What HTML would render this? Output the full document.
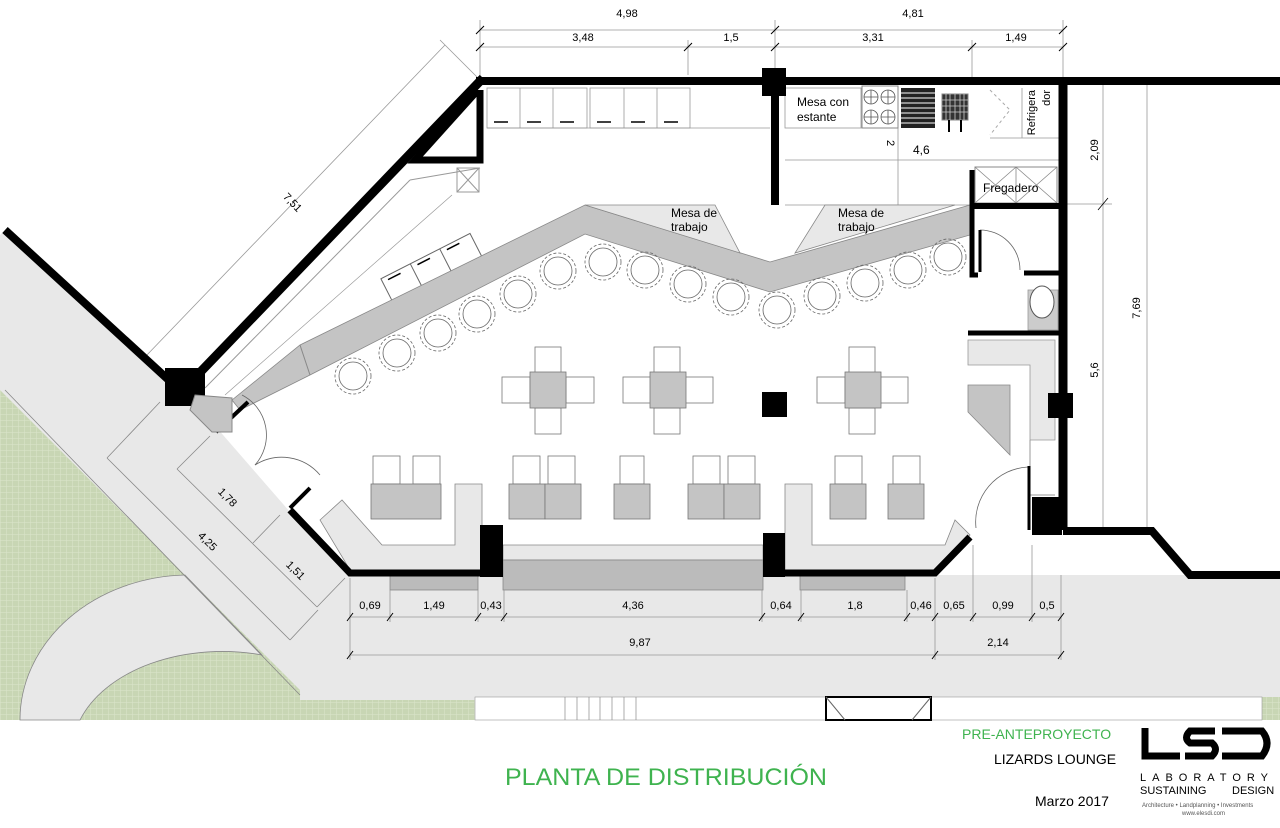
<!DOCTYPE html>
<html><head><meta charset="utf-8"><style>
html,body{margin:0;padding:0;background:#fff;}
svg{display:block;font-family:"Liberation Sans",sans-serif;}
</style></head><body>
<svg width="1280" height="828" viewBox="0 0 1280 828" xmlns="http://www.w3.org/2000/svg">
<defs>
<pattern id="g" width="6" height="6" patternUnits="userSpaceOnUse">
<rect width="6" height="6" fill="#c8d6b4"/><path d="M0 0H6M0 0V6" stroke="#dbe5cc" stroke-width="1"/>
</pattern>
</defs>
<rect width="1280" height="828" fill="#fff"/>
<polygon points="0,235 5,230 185,392 210,420 290,512 350,575 1280,575 1280,720 0,720" fill="#e8e8e8"/>
<polygon points="0,390 190,580 300,690 300,720 0,720" fill="url(#g)"/>
<polygon points="300,700 475,700 475,720 300,720" fill="url(#g)"/>
<rect x="1262" y="697" width="18" height="23" fill="url(#g)"/>
<path d="M20,720 A170,145 0 0 1 185,575 L262,655 A150,100 0 0 0 80,720 Z" fill="#e8e8e8" stroke="#888" stroke-width="0.8"/>
<line x1="5" y1="390" x2="300" y2="695" stroke="#888" stroke-width="0.8"/>
<rect x="475" y="697" width="787" height="23" fill="#fff" stroke="#999" stroke-width="0.6"/>
<g stroke="#888" stroke-width="0.7">
<line x1="565" y1="697" x2="565" y2="720"/><line x1="577" y1="697" x2="577" y2="720"/><line x1="589" y1="697" x2="589" y2="720"/><line x1="600" y1="697" x2="600" y2="720"/><line x1="612" y1="697" x2="612" y2="720"/><line x1="624" y1="697" x2="624" y2="720"/><line x1="636" y1="697" x2="636" y2="720"/>
</g>
<rect x="826" y="697" width="105" height="23" fill="none" stroke="#000" stroke-width="2"/>
<line x1="826" y1="697" x2="845" y2="720" stroke="#666"/><line x1="931" y1="697" x2="912" y2="720" stroke="#666"/>

<polygon points="480,82 1063,82 1063,530 1035,530 970,535 935,572 350,572 290,512 230,430 210,408 185,388" fill="#fff"/>
<polygon points="1063,82 1280,82 1280,575 1190,575 1152,527 1063,527" fill="#fff"/>

<g stroke="#999" stroke-width="0.8">
<line x1="1103" y1="82" x2="1103" y2="527"/><line x1="1147" y1="82" x2="1147" y2="527"/>
<line x1="1063" y1="204" x2="1112" y2="204"/>
<line x1="1098" y1="210" x2="1108" y2="198" stroke="#000"/>
</g>
<text x="1098" y="150" font-size="11" transform="rotate(-90 1098 150)" text-anchor="middle">2,09</text>
<text x="1098" y="370" font-size="11" transform="rotate(-90 1098 370)" text-anchor="middle">5,6</text>
<text x="1140" y="308" font-size="11" transform="rotate(-90 1140 308)" text-anchor="middle">7,69</text>

<g stroke="#999" stroke-width="0.8">
<line x1="480" y1="30" x2="1063" y2="30"/><line x1="480" y1="47" x2="1063" y2="47"/>
<line x1="480" y1="20" x2="480" y2="80"/><line x1="775" y1="20" x2="775" y2="70"/><line x1="1063" y1="20" x2="1063" y2="80"/>
<line x1="688" y1="40" x2="688" y2="75"/><line x1="972" y1="40" x2="972" y2="80"/>
</g>
<g stroke="#000" stroke-width="1">
<path d="M476,34l8,-8M771,34l8,-8M1059,34l8,-8M476,51l8,-8M684,51l8,-8M771,51l8,-8M968,51l8,-8M1059,51l8,-8"/>
</g>
<g font-size="11" text-anchor="middle">
<text x="627" y="17">4,98</text><text x="913" y="17">4,81</text>
<text x="583" y="41">3,48</text><text x="731" y="41">1,5</text><text x="873" y="41">3,31</text><text x="1016" y="41">1,49</text>
</g>
<line x1="445" y1="45" x2="145" y2="357" stroke="#999" stroke-width="0.8"/>
<line x1="440" y1="40" x2="480" y2="80" stroke="#999" stroke-width="0.8"/>
<text x="290" y="205" font-size="11" text-anchor="middle" transform="rotate(46 290 205)">7,51</text>

<g stroke="#999" stroke-width="0.8" fill="#fff">
<rect x="487" y="88" width="100" height="40"/><rect x="590" y="88" width="100" height="40"/>
<line x1="520" y1="88" x2="520" y2="128"/><line x1="553" y1="88" x2="553" y2="128"/><line x1="624" y1="88" x2="624" y2="128"/><line x1="657" y1="88" x2="657" y2="128"/>
<line x1="487" y1="128" x2="770" y2="128"/>
<rect x="785" y="88" width="76" height="40"/>
<line x1="785" y1="160" x2="1063" y2="160"/>
<line x1="898" y1="128" x2="898" y2="205"/>
<line x1="785" y1="205" x2="972" y2="205"/>
</g>
<g stroke="#000" stroke-width="1.5">
<path d="M494,122h14M527,122h14M560,122h14M597,122h14M631,122h14M664,122h14"/>
</g>
<text x="797" y="106" font-size="12">Mesa con</text>
<text x="797" y="121" font-size="12">estante</text>
<rect x="862" y="86" width="36" height="42" fill="#fff" stroke="#888"/>
<g fill="none" stroke="#555" stroke-width="0.8"><circle cx="871" cy="97" r="7"/><circle cx="888" cy="97" r="7"/><circle cx="871" cy="117" r="7"/><circle cx="888" cy="117" r="7"/>
<path d="M864,97h14M871,90v14M881,97h14M888,90v14M864,117h14M871,110v14M881,117h14M888,110v14"/></g>
<rect x="901" y="88" width="34" height="40" fill="#222"/>
<g stroke="#fff" stroke-width="1"><path d="M901,93h34M901,98h34M901,103h34M901,108h34M901,113h34M901,118h34M901,123h34"/></g>
<rect x="942" y="94" width="26" height="26" fill="#333" stroke="#888"/>
<g stroke="#ccc" stroke-width="0.8"><path d="M946,94v26M950,94v26M955,94v26M960,94v26M964,94v26M942,100h26M942,106h26M942,112h26"/></g>
<path d="M949,120v12M961,120v12" stroke="#000" stroke-width="2"/>
<g stroke="#aaa" stroke-dasharray="3,3" fill="none"><path d="M990,90 L1010,110 L990,135"/></g>
<line x1="1022" y1="88" x2="1022" y2="138" stroke="#999" stroke-width="0.8"/>
<line x1="990" y1="138" x2="1060" y2="138" stroke="#999" stroke-width="0.8"/>
<text x="1035" y="90" font-size="11" transform="rotate(-90 1035 90)" text-anchor="end">Refrigera</text>
<text x="1050" y="90" font-size="11" transform="rotate(-90 1050 90)" text-anchor="end">dor</text>
<text x="887" y="143" font-size="11" transform="rotate(90 887 143)" text-anchor="middle">2</text>
<text x="913" y="154" font-size="12">4,6</text>
<rect x="975" y="167" width="82" height="36" fill="#fff" stroke="#888"/>
<path d="M975,167l41,36M1016,167l-41,36M1016,167l41,36M1057,167l-41,36M1016,167v36" stroke="#888" stroke-width="0.8"/>
<text x="983" y="192" font-size="12">Fregadero</text>

<rect x="457" y="168" width="22" height="24" fill="#fff" stroke="#999"/>
<path d="M457,168l22,24M479,168l-22,24" stroke="#999"/>
<line x1="480" y1="168" x2="410" y2="180" stroke="#999"/>
<line x1="410" y1="180" x2="205" y2="388" stroke="#999"/>
<line x1="452" y1="195" x2="225" y2="395" stroke="#999" stroke-width="0.7"/>

<g transform="rotate(-27 430 265)">
<rect x="380" y="255" width="100" height="28" fill="#fff" stroke="#666"/>
<path d="M413,255v28M446,255v28" stroke="#666"/>
<path d="M386,259h14M419,259h14M452,259h14" stroke="#000" stroke-width="1.5"/>
</g>

<polygon points="232,400 300,345 585,205 770,262 970,205 970,235 770,292 585,234 310,375 240,410" fill="#c4c4c4" stroke="#888" stroke-width="0.8"/>
<line x1="300" y1="345" x2="310" y2="375" stroke="#888"/>
<polygon points="585,205 715,205 740,253" fill="#e8e8e8" stroke="#888" stroke-width="0.8"/>
<polygon points="825,205 955,205 795,253" fill="#e8e8e8" stroke="#888" stroke-width="0.8"/>
<text x="671" y="217" font-size="12">Mesa de</text><text x="671" y="231" font-size="12">trabajo</text>
<text x="838" y="217" font-size="12">Mesa de</text><text x="838" y="231" font-size="12">trabajo</text>

<g fill="none" stroke="#666" stroke-width="0.8">
<circle cx="353" cy="376" r="14"/><circle cx="353" cy="376" r="18" stroke-dasharray="3,2"/>
<circle cx="397" cy="353" r="14"/><circle cx="397" cy="353" r="18" stroke-dasharray="3,2"/>
<circle cx="438" cy="333" r="14"/><circle cx="438" cy="333" r="18" stroke-dasharray="3,2"/>
<circle cx="477" cy="314" r="14"/><circle cx="477" cy="314" r="18" stroke-dasharray="3,2"/>
<circle cx="518" cy="294" r="14"/><circle cx="518" cy="294" r="18" stroke-dasharray="3,2"/>
<circle cx="558" cy="271" r="14"/><circle cx="558" cy="271" r="18" stroke-dasharray="3,2"/>
<circle cx="603" cy="262" r="14"/><circle cx="603" cy="262" r="18" stroke-dasharray="3,2"/>
<circle cx="645" cy="270" r="14"/><circle cx="645" cy="270" r="18" stroke-dasharray="3,2"/>
<circle cx="688" cy="284" r="14"/><circle cx="688" cy="284" r="18" stroke-dasharray="3,2"/>
<circle cx="731" cy="297" r="14"/><circle cx="731" cy="297" r="18" stroke-dasharray="3,2"/>
<circle cx="777" cy="310" r="14"/><circle cx="777" cy="310" r="18" stroke-dasharray="3,2"/>
<circle cx="822" cy="296" r="14"/><circle cx="822" cy="296" r="18" stroke-dasharray="3,2"/>
<circle cx="865" cy="283" r="14"/><circle cx="865" cy="283" r="18" stroke-dasharray="3,2"/>
<circle cx="908" cy="270" r="14"/><circle cx="908" cy="270" r="18" stroke-dasharray="3,2"/>
<circle cx="948" cy="257" r="14"/><circle cx="948" cy="257" r="18" stroke-dasharray="3,2"/>
</g>

<g fill="#fff" stroke="#777" stroke-width="0.8">
<rect x="535" y="347" width="26" height="26"/><rect x="535" y="408" width="26" height="26"/><rect x="502" y="377" width="28" height="26"/><rect x="566" y="377" width="28" height="26"/>
<rect x="654" y="347" width="26" height="26"/><rect x="654" y="408" width="26" height="26"/><rect x="623" y="377" width="28" height="26"/><rect x="685" y="377" width="28" height="26"/>
<rect x="849" y="347" width="26" height="26"/><rect x="849" y="408" width="26" height="26"/><rect x="817" y="377" width="28" height="26"/><rect x="880" y="377" width="28" height="26"/>
</g>
<g fill="#c4c4c4" stroke="#777" stroke-width="0.8">
<rect x="530" y="372" width="36" height="36"/><rect x="650" y="372" width="36" height="36"/><rect x="845" y="372" width="36" height="36"/>
</g>
<rect x="762" y="392" width="25" height="25" fill="#000"/>

<g fill="#e8e8e8" stroke="#888" stroke-width="0.8">
<polygon points="320,520 342,500 382,545 455,545 455,484 482,484 482,570 350,570"/>
<polygon points="503,545 763,545 763,560 503,560"/>
<polygon points="785,484 812,484 812,545 945,545 955,520 970,535 935,570 785,570"/>
<rect x="503" y="560" width="260" height="30" fill="#bbb"/>
</g>
<g fill="#fff" stroke="#777" stroke-width="0.8">
<rect x="373" y="456" width="27" height="28"/><rect x="413" y="456" width="27" height="28"/>
<rect x="513" y="456" width="27" height="28"/><rect x="548" y="456" width="27" height="28"/>
<rect x="620" y="456" width="24" height="28"/>
<rect x="693" y="456" width="27" height="28"/><rect x="728" y="456" width="27" height="28"/>
<rect x="835" y="456" width="27" height="28"/><rect x="893" y="456" width="27" height="28"/>
</g>
<g fill="#c4c4c4" stroke="#777" stroke-width="0.8">
<rect x="371" y="484" width="70" height="35"/>
<rect x="509" y="484" width="36" height="35"/><rect x="545" y="484" width="36" height="35"/>
<rect x="614" y="484" width="36" height="35"/>
<rect x="688" y="484" width="36" height="35"/><rect x="724" y="484" width="36" height="35"/>
<rect x="830" y="484" width="36" height="35"/><rect x="888" y="484" width="36" height="35"/>
</g>

<g fill="#bbb" stroke="#888" stroke-width="0.8">
<rect x="390" y="572" width="88" height="18"/><rect x="800" y="572" width="105" height="18"/>
</g>
<g fill="#e8e8e8" stroke="#999" stroke-width="0.8">
<polygon points="968,340 1055,340 1055,440 1030,440 1030,365 968,365"/>
<rect x="1028" y="290" width="30" height="40" fill="#ccc"/>
</g>
<ellipse cx="1042" cy="302" rx="12" ry="16" fill="#fff" stroke="#555"/>
<polygon points="968,385 1010,385 1010,455 968,412" fill="#c4c4c4" stroke="#888" stroke-width="0.8"/>
<path d="M1030,440v55M1030,495h25" stroke="#999" fill="none"/>
<g fill="none" stroke="#666" stroke-width="0.8">
<path d="M980,230 A40,40 0 0 1 1020,270"/>
<path d="M1028,467 A55,55 0 0 0 976,528"/>
<path d="M242,395 A45,45 0 0 1 255,465"/>
<path d="M255,465 A50,50 0 0 1 320,475"/>
</g>

<g stroke="#000" fill="none" stroke-linejoin="miter">
<path d="M476,81 H1280" stroke-width="8"/>
<path d="M483,78 L185,388" stroke-width="9"/>
<path d="M478,90 L415,160 H480 V90" stroke-width="7"/>
<path d="M5,230 L185,395" stroke-width="8"/>
<path d="M775,80 V205" stroke-width="8"/>
<path d="M1063,78 V530" stroke-width="9"/>
<path d="M1063,531 H1152 L1190,575 H1280" stroke-width="8"/>
<path d="M290,510 L350,573 H480" stroke-width="7"/>
<path d="M785,573 H905 L935,573 L970,537" stroke-width="7"/>
<path d="M290,508 L310,488" stroke-width="4"/>
<path d="M216,432 L248,402" stroke-width="4"/>
<path d="M972,170 V275 H978" stroke-width="5"/>
<path d="M972,206 H1063" stroke-width="6"/>
<path d="M968,333 H1063" stroke-width="5"/>
<path d="M1024,273 H1063" stroke-width="5"/>
<path d="M980,230 V272" stroke-width="3"/>
<path d="M1029,466 V530" stroke-width="3"/>
</g>
<rect x="762" y="68" width="24" height="28" fill="#000"/>
<rect x="480" y="525" width="23" height="52" fill="#000"/>
<rect x="763" y="533" width="22" height="44" fill="#000"/>
<rect x="1048" y="393" width="25" height="25" fill="#000"/>
<rect x="1032" y="497" width="30" height="38" fill="#000"/>
<rect x="165" y="368" width="40" height="38" fill="#000"/>
<polygon points="195,395 232,398 232,432 212,432 190,410" fill="#c4c4c4" stroke="#888"/>

<g stroke="#999" stroke-width="0.8">
<line x1="350" y1="617" x2="1061" y2="617"/><line x1="350" y1="655" x2="1061" y2="655"/>
<line x1="350" y1="578" x2="350" y2="660"/><line x1="390" y1="590" x2="390" y2="622"/><line x1="478" y1="590" x2="478" y2="622"/><line x1="504" y1="590" x2="504" y2="622"/><line x1="762" y1="590" x2="762" y2="622"/><line x1="801" y1="590" x2="801" y2="622"/><line x1="907" y1="590" x2="907" y2="622"/><line x1="935" y1="578" x2="935" y2="660"/><line x1="973" y1="545" x2="973" y2="622"/><line x1="1032" y1="545" x2="1032" y2="622"/><line x1="1061" y1="575" x2="1061" y2="660"/>
</g>
<g stroke="#000" stroke-width="1">
<path d="M347,621l6,-8M387,621l6,-8M475,621l6,-8M501,621l6,-8M759,621l6,-8M798,621l6,-8M904,621l6,-8M932,621l6,-8M970,621l6,-8M1029,621l6,-8M1058,621l6,-8M347,659l6,-8M932,659l6,-8M1058,659l6,-8"/>
</g>
<g font-size="11" text-anchor="middle">
<text x="370" y="609">0,69</text><text x="434" y="609">1,49</text><text x="491" y="609">0,43</text><text x="633" y="609">4,36</text><text x="781" y="609">0,64</text><text x="855" y="609">1,8</text><text x="921" y="609">0,46</text><text x="954" y="609">0,65</text><text x="1003" y="609">0,99</text><text x="1047" y="609">0,5</text>
<text x="640" y="646">9,87</text><text x="998" y="646">2,14</text>
</g>
<g stroke="#888" stroke-width="0.8">
<line x1="107" y1="458" x2="290" y2="640"/>
<line x1="177" y1="469" x2="317" y2="607"/>
<line x1="107" y1="458" x2="160" y2="402"/>
<line x1="177" y1="469" x2="210" y2="436"/>
<line x1="253" y1="543" x2="280" y2="515"/>
<line x1="317" y1="607" x2="345" y2="578"/>
<line x1="290" y1="640" x2="318" y2="610"/>
</g>
<g font-size="11" text-anchor="middle">
<text x="225" y="500" transform="rotate(45 225 500)">1,78</text>
<text x="205" y="544" transform="rotate(45 205 544)">4,25</text>
<text x="293" y="573" transform="rotate(45 293 573)">1,51</text>
</g>

<text x="505" y="785" font-size="24" fill="#3fb34f" textLength="322" lengthAdjust="spacingAndGlyphs">PLANTA DE DISTRIBUCIÓN</text>
<text x="962" y="739" font-size="14" fill="#3fb34f">PRE-ANTEPROYECTO</text>
<text x="994" y="764" font-size="14">LIZARDS LOUNGE</text>
<text x="1035" y="806" font-size="14">Marzo 2017</text>
<g fill="none" stroke="#000" stroke-width="7">
<path d="M1145,728 V756 H1180"/>
<path d="M1215,731 H1190 Q1183,738 1190,743 H1212 Q1219,749 1212,756 H1185"/>
<path d="M1222,731 H1262 Q1272,743 1262,756 H1222"/>
</g>
<text x="1140" y="781" font-size="11" letter-spacing="6">LABORATORY</text>
<text x="1140" y="794" font-size="11">SUSTAINING</text><text x="1232" y="794" font-size="11">DESIGN</text>
<text x="1142" y="807" font-size="6" fill="#555">Architecture • Landplanning • Investments</text>
<text x="1182" y="815" font-size="6" fill="#555">www.elesdi.com</text>
</svg>
</body></html>
